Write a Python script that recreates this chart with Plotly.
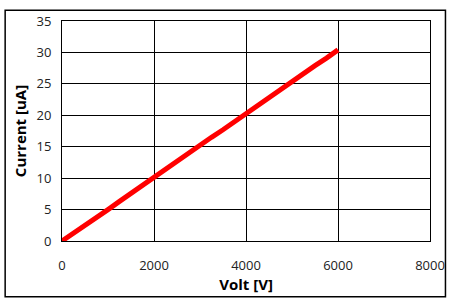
import plotly.graph_objects as go

volt = [0, 250, 500, 750, 1000, 1250, 1500, 1750, 2000, 2250, 2500, 2750, 3000,
        3250, 3500, 3750, 4000, 4250, 4500, 4750, 5000, 5250, 5500, 5750, 6000]
current = [0.0, 1.2, 2.5, 3.8, 5.0, 6.3, 7.6, 8.9, 10.1, 11.4, 12.7, 13.9, 15.2,
           16.5, 17.7, 19.0, 20.3, 21.5, 22.8, 24.1, 25.3, 26.6, 27.9, 29.1, 30.4]
x_ticks = [0, 2000, 4000, 6000, 8000]
y_ticks = [0, 5, 10, 15, 20, 25, 30, 35]

W, H = 457, 306
L, R, T, B = 62, 26, 16, 65
pw, ph = W - L - R, H - T - B

fig = go.Figure()
fig.add_trace(go.Scatter(x=volt, y=current, mode="lines",
                         line=dict(color="#ff0000", width=5), showlegend=False))

font = "Open Sans, DejaVu Sans, sans-serif"
fig.update_layout(
    width=W, height=H,
    margin=dict(l=L, r=R, t=T, b=B),
    paper_bgcolor="white", plot_bgcolor="white",
    font=dict(family=font, size=13, color="#222"),
    xaxis=dict(range=[0, 8000], tickvals=x_ticks, showgrid=True, gridcolor="black",
               gridwidth=1, zeroline=False, showline=True, linecolor="black", mirror=True,
               linewidth=1, ticks="outside", ticklen=12, tickcolor="rgba(0,0,0,0)",
               tickfont=dict(size=13),
               title=dict(text="<b>Volt [V]</b>", font=dict(size=15, color="black"), standoff=4)),
    yaxis=dict(range=[0, 35], tickvals=y_ticks, showgrid=True, gridcolor="black",
               gridwidth=1, zeroline=False, showline=True, linecolor="black", mirror=True,
               linewidth=1, ticks="outside", ticklen=7, tickcolor="rgba(0,0,0,0)",
               tickfont=dict(size=13),
               title=dict(text="<b>Current [uA]</b>", font=dict(size=15, color="black"), standoff=6)),
    shapes=[dict(type="rect", xref="paper", yref="paper",
                 x0=(5 - L) / pw, x1=(446.5 - L) / pw,
                 y0=(H - B - 298) / ph, y1=(H - B - 5) / ph,
                 line=dict(color="black", width=1.5), fillcolor="rgba(0,0,0,0)", layer="below")],
)
fig.write_html("out.html")
